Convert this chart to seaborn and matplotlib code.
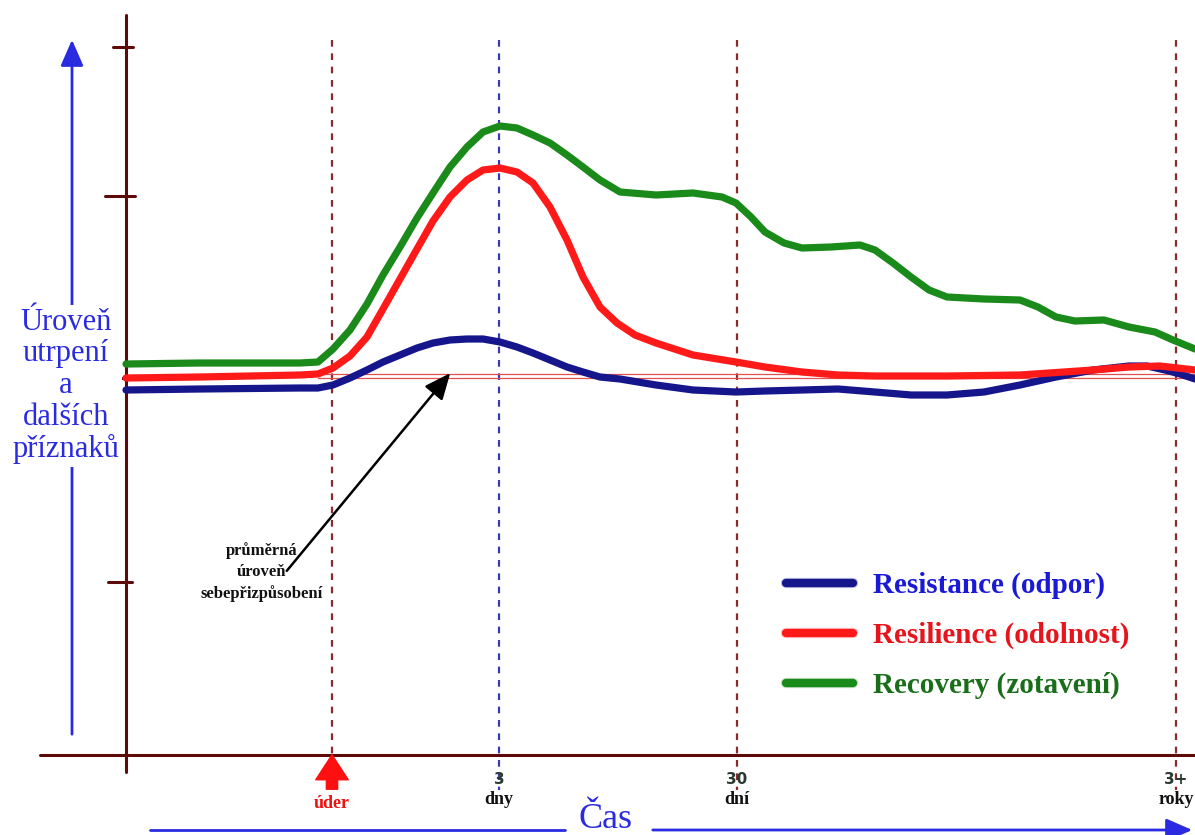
import numpy as np
import pandas as pd
import matplotlib
matplotlib.use("Agg")
import matplotlib.pyplot as plt
import matplotlib.patheffects as pe
import seaborn as sns

# curves: x = time position, y = level (image rows, top = 0)
resistance_x = [126, 200, 300, 318, 333, 350, 367, 383, 400, 417, 433, 450, 467, 483, 500, 517,
                533, 550, 567, 583, 600, 620, 656, 693, 736, 765, 802, 838, 875, 911, 947, 984,
                1020, 1056, 1093, 1129, 1147, 1165, 1180, 1195]
resistance_y = [390, 389, 388, 388, 385, 378, 370, 362, 355, 348, 343, 340, 339, 339, 342, 347,
                353, 360, 367, 372, 377, 379, 385, 390, 392, 391, 390, 389, 392, 395, 395, 392,
                385, 377, 370, 366, 366, 370, 374, 379]

resilience_x = [126, 200, 300, 318, 333, 350, 367, 383, 400, 417, 433, 450, 467, 483, 500, 517,
                533, 550, 567, 583, 600, 617, 635, 656, 693, 736, 765, 802, 838, 875, 947, 1020,
                1093, 1129, 1160, 1195]
resilience_y = [378, 377, 375, 374, 368, 356, 337, 309, 279, 249, 221, 197, 180, 170, 168, 172,
                183, 207, 240, 277, 307, 323, 335, 343, 355, 362, 367, 372, 375, 376, 376, 375,
                370, 367, 366, 370]

recovery_x = [126, 200, 300, 318, 333, 350, 367, 383, 400, 417, 433, 450, 467, 483, 500, 517,
              533, 550, 567, 583, 600, 620, 656, 693, 722, 736, 751, 765, 784, 802, 831, 860,
              875, 893, 911, 929, 947, 984, 1020, 1038, 1056, 1075, 1104, 1129, 1155, 1173, 1195]
recovery_y = [364, 363, 363, 362, 349, 330, 304, 275, 247, 218, 193, 167, 147, 132, 126, 128,
              135, 143, 155, 167, 180, 192, 195, 193, 197, 203, 217, 232, 243, 248, 247, 245,
              250, 263, 277, 290, 297, 299, 300, 307, 317, 321, 320, 327, 332, 340, 349]

series_names = ["Resistance (odpor)", "Resilience (odolnost)", "Recovery (zotavení)"]
series_colors = ["#16168c", "#ff1a1a", "#1a8a1a"]
label_colors = ["#1a1ad6", "#e8141c", "#1a6e1a"]

# time markers on the x axis
time_pos = [332, 499, 737, 1176]
time_top = ["", "3", "30", "3+"]
time_bottom = ["úder", "dny", "dní", "roky"]
time_colors = ["#8b2b2b", "#3a3ab8", "#8b2b2b", "#8b2b2b"]

# ticks on the level axis (row, length left, length right)
level_ticks = [47, 196, 378, 582]
tick_left = [13, 21, 4, 18]
tick_right = [7, 9, 0, 6]
baseline_level = 376

df = pd.concat([
    pd.DataFrame({"x": resistance_x, "y": resistance_y, "series": series_names[0]}),
    pd.DataFrame({"x": resilience_x, "y": resilience_y, "series": series_names[1]}),
    pd.DataFrame({"x": recovery_x, "y": recovery_y, "series": series_names[2]}),
])

sns.set_style("white")
plt.rcParams["font.family"] = ["Liberation Serif", "DejaVu Serif"]

fig = plt.figure(figsize=(11.95, 8.35), dpi=100)
ax = fig.add_axes([0, 0, 1, 1])
ax.set_xlim(0, 1195)
ax.set_ylim(835, 0)
ax.axis("off")

axis_col = "#5c0a0a"

# axes of the diagram
ax.plot([126, 126], [15, 772], color=axis_col, lw=2.2, zorder=2)
ax.plot([40, 1195], [755, 755], color=axis_col, lw=2.2, zorder=2)
for yv, l, r in zip(level_ticks, tick_left, tick_right):
    ax.plot([126 - l, 126 + r], [yv, yv], color=axis_col, lw=2.2, zorder=2)

# time markers
for xp, col in zip(time_pos, time_colors):
    ax.plot([xp, xp], [40, 790], color=col, lw=1.6, ls=(0, (3, 3)), zorder=1)

# reference level of adaptation
ax.plot([318, 1195], [baseline_level - 2, baseline_level - 2], color="#e05050", lw=0.9, zorder=1)
ax.plot([318, 1195], [baseline_level + 2, baseline_level + 2], color="#e05050", lw=0.9, zorder=1)

sns.lineplot(data=df, x="x", y="y", hue="series", palette=series_colors, estimator=None,
             sort=False, lw=5.2, ax=ax, zorder=3, legend=True)
for line, col in zip(ax.lines[-3:], series_colors):
    line.set_solid_capstyle("round")
    line.set_solid_joinstyle("round")
    line.set_path_effects([pe.Stroke(linewidth=7.5, foreground=col, alpha=0.25), pe.Normal()])

leg = ax.legend(loc="upper left", bbox_to_anchor=(786, 572), bbox_transform=ax.transData,
                frameon=False, borderpad=0, borderaxespad=0, handlelength=2.3,
                handletextpad=0.7, labelspacing=0.78,
                prop={"family": "Liberation Serif", "weight": "bold", "size": 21})
for txt, col in zip(leg.get_texts(), label_colors):
    txt.set_color(col)
for h in leg.get_lines():
    h.set_linewidth(6)

# annotation of the baseline
ax.annotate("", xy=(452, 371), xytext=(285, 573),
            arrowprops=dict(arrowstyle="-|>,head_width=0.35,head_length=0.8", color="black",
                            lw=1.8, mutation_scale=20), zorder=4)
ax.text(262, 572, "průměrná\núroveň\nsebepřizpůsobení", ha="center", va="center",
        fontsize=12, fontweight="bold", color="#111111", linespacing=1.4)

# time labels
ax.annotate("", xy=(332, 752), xytext=(332, 792),
            arrowprops=dict(arrowstyle="simple,head_width=1.3,head_length=1.0,tail_width=0.45",
                            color="#ff1010", mutation_scale=18), zorder=4)
ax.text(time_pos[0], 803, time_bottom[0], ha="center", va="center", fontsize=13,
        fontweight="bold", color="#ee1111")
for xp, top, bottom in zip(time_pos[1:], time_top[1:], time_bottom[1:]):
    ax.text(xp, 780, top, ha="center", va="center", fontsize=11, fontweight="bold",
            family="DejaVu Sans", color="#2a3a30")
    ax.text(xp, 799, bottom, ha="center", va="center", fontsize=13, fontweight="bold",
            color="#111111")

# time arrow
ax.plot([150, 565], [830, 830], color="#2a2ae0", lw=2)
ax.annotate("", xy=(1195, 830), xytext=(650, 830),
            arrowprops=dict(arrowstyle="-|>,head_width=0.35,head_length=0.8", color="#2a2ae0",
                            lw=2, mutation_scale=20))
ax.text(606, 820, "Čas", ha="center", va="center", fontsize=26, color="#2a2ae0")

# level arrow
ax.annotate("", xy=(72, 37), xytext=(72, 737),
            arrowprops=dict(arrowstyle="-|>,head_width=0.35,head_length=0.8", color="#2a2ae0",
                            lw=2, mutation_scale=20))
ax.text(66, 386, "Úroveň\nutrpení\na\ndalších\npříznaků", ha="center", va="center",
        fontsize=22, color="#2a2ae0", linespacing=1.12,
        bbox=dict(facecolor="white", edgecolor="none", pad=2))

fig.savefig("out.png", dpi=100)
